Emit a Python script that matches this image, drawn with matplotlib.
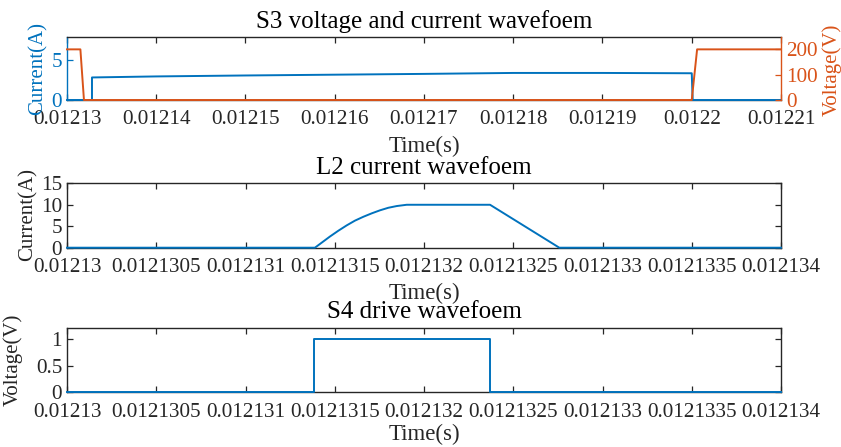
import matplotlib
matplotlib.use("Agg")
import matplotlib.pyplot as plt

plt.rcParams['font.family'] = ['Liberation Serif', 'DejaVu Serif']
plt.rcParams['mathtext.fontset'] = 'stix'

BLUE = '#0072BD'
ORANGE = '#D95319'
DARK = '#262626'

# ---------------- data ----------------
# S3 current (A)
s3_current_time = [0.01213, 0.0121328, 0.0121328, 0.01214, 0.01215, 0.01216, 0.01217,
                   0.01218, 0.01219, 0.0122000, 0.0122001, 0.01221]
s3_current = [0.0, 0.0, 2.85, 2.98, 3.1, 3.2, 3.3, 3.42, 3.42, 3.38, 0.0, 0.0]
# S3 voltage (V)
s3_voltage_time = [0.01213, 0.0121315, 0.0121319, 0.0122000, 0.0122006, 0.01221]
s3_voltage = [200.0, 200.0, 0.0, 0.0, 200.0, 200.0]

# L2 current (A)
l2_time = [0.01213, 0.012131389, 0.012131473, 0.012131520, 0.012131567, 0.012131613,
           0.012131660, 0.012131707, 0.012131753, 0.012131800, 0.012131847,
           0.012131903, 0.012132370, 0.012132758, 0.012134]
l2_current = [0.0, 0.0, 2.6, 3.95, 5.2, 6.3, 7.2, 8.0, 8.7, 9.3, 9.7, 10.0, 10.0, 0.0, 0.0]

# S4 drive (V)
s4_time = [0.01213, 0.012131382, 0.012131382, 0.012132367, 0.012132367, 0.012134]
s4_drive = [0.0, 0.0, 1.0, 1.0, 0.0, 0.0]

# ticks
top_xticks = [0.01213, 0.01214, 0.01215, 0.01216, 0.01217, 0.01218, 0.01219, 0.0122, 0.01221]
top_xlabels = ['0.01213', '0.01214', '0.01215', '0.01216', '0.01217', '0.01218',
               '0.01219', '0.0122', '0.01221']
zoom_xticks = [0.01213, 0.0121305, 0.012131, 0.0121315, 0.012132, 0.0121325,
               0.012133, 0.0121335, 0.012134]
zoom_xlabels = ['0.01213', '0.0121305', '0.012131', '0.0121315', '0.012132',
                '0.0121325', '0.012133', '0.0121335', '0.012134']
cur_yticks = [0, 5]
volt_yticks = [0, 100, 200]
l2_yticks = [0, 5, 10, 15]
s4_yticks = [0, 0.5, 1]
s4_ylabels = ['0', '0.5', '1']

TICK_FS = 15.2
LABEL_FS = 15
XLABEL_FS = 16.5
TITLE_FS = 18

fig = plt.figure(figsize=(8.41, 4.47), dpi=100)

left = 67 / 841
width = 714 / 841
ax1 = fig.add_axes([left, 1 - 100 / 447, width, 63.3 / 447])
ax2 = fig.add_axes([left, 1 - 247.7 / 447, width, 64.4 / 447])
ax3 = fig.add_axes([left, 1 - 392.3 / 447, width, 64 / 447])


def style(ax):
    for s in ax.spines.values():
        s.set_color(DARK)
        s.set_linewidth(1.0)
    ax.tick_params(direction='in', length=4, width=0.9, labelsize=TICK_FS,
                   colors=DARK, top=True, right=True)
    ax.tick_params(axis='x', pad=7.5)
    ax.tick_params(axis='y', pad=3.5)


# ---- top panel ----
style(ax1)
ax1.tick_params(right=False)
ax1.plot(s3_current_time, s3_current, color=BLUE, lw=1.4, zorder=3, clip_on=False)
ax1.set_xlim(0.01213, 0.01221)
ax1.set_ylim(0, 8)
ax1.set_xticks(top_xticks, labels=top_xlabels)
ax1.set_yticks(cur_yticks)
ax1.tick_params(axis='y', colors=BLUE)
ax1.spines['left'].set_color(BLUE)
ax1.spines['right'].set_visible(False)
ax1.set_ylabel('Current(A)', color=BLUE, fontsize=LABEL_FS)
ax1.yaxis.set_label_coords(-0.0406, 0.49)
ax1.yaxis.label.set_va('center')

ax1r = ax1.twinx()
ax1r.plot(s3_voltage_time, s3_voltage, color=ORANGE, lw=1.4, zorder=3, clip_on=False)
ax1r.set_ylim(0, 250)
ax1r.set_yticks(volt_yticks)
for s in ax1r.spines.values():
    s.set_visible(False)
ax1r.spines['right'].set_visible(True)
ax1r.spines['right'].set_color(ORANGE)
ax1r.spines['right'].set_linewidth(1.0)
ax1r.tick_params(axis='y', direction='in', length=4, width=0.9, labelsize=TICK_FS,
                 colors=ORANGE, pad=3.5)
ax1r.set_ylabel('Voltage(V)', color=ORANGE, fontsize=LABEL_FS)
ax1r.yaxis.set_label_coords(1.071, 0.48)
ax1r.yaxis.label.set_va('center')

ax1.text(0.5, 1.137, 'S3 voltage and current wavefoem', transform=ax1.transAxes,
         ha='center', va='baseline', fontsize=TITLE_FS, color='black')
ax1.text(0.5, -0.82, 'Time(s)', transform=ax1.transAxes,
         ha='center', va='baseline', fontsize=XLABEL_FS, color=DARK)

# ---- middle panel ----
style(ax2)
ax2.plot(l2_time, l2_current, color=BLUE, lw=1.4, zorder=3, clip_on=False)
ax2.set_xlim(0.01213, 0.012134)
ax2.set_ylim(0, 15)
ax2.set_xticks(zoom_xticks, labels=zoom_xlabels)
ax2.set_yticks(l2_yticks)
ax2.set_ylabel('Current(A)', fontsize=LABEL_FS, color=DARK)
ax2.yaxis.set_label_coords(-0.0546, 0.51)
ax2.yaxis.label.set_va('center')
ax2.text(0.5, 1.144, 'L2 current wavefoem', transform=ax2.transAxes,
         ha='center', va='baseline', fontsize=TITLE_FS, color='black')
ax2.text(0.5, -0.80, 'Time(s)', transform=ax2.transAxes,
         ha='center', va='baseline', fontsize=XLABEL_FS, color=DARK)

# ---- bottom panel ----
style(ax3)
ax3.plot(s4_time, s4_drive, color=BLUE, lw=1.4, zorder=3, clip_on=False)
ax3.set_xlim(0.01213, 0.012134)
ax3.set_ylim(0, 1.2)
ax3.set_xticks(zoom_xticks, labels=zoom_xlabels)
ax3.set_yticks(s4_yticks, labels=s4_ylabels)
ax3.set_ylabel('Voltage(V)', fontsize=LABEL_FS, color=DARK)
ax3.yaxis.set_label_coords(-0.0756, 0.505)
ax3.yaxis.label.set_va('center')
ax3.text(0.5, 1.156, 'S4 drive wavefoem', transform=ax3.transAxes,
         ha='center', va='baseline', fontsize=TITLE_FS, color='black')
ax3.text(0.5, -0.75, 'Time(s)', transform=ax3.transAxes,
         ha='center', va='baseline', fontsize=XLABEL_FS, color=DARK)

fig.savefig('out.png', dpi=100)
